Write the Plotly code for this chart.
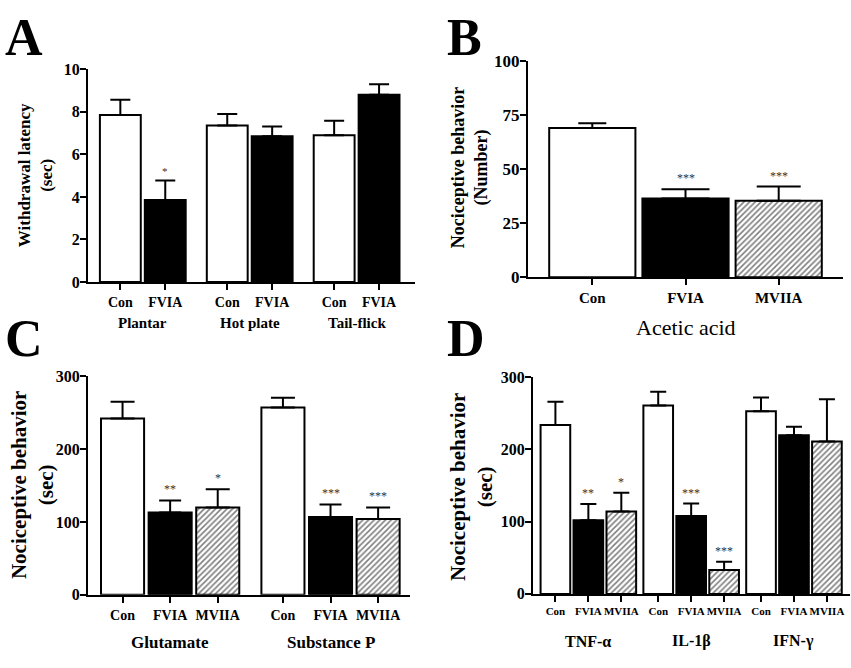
import plotly.graph_objects as go

FONT = "Times New Roman, Liberation Serif, Tinos, DejaVu Serif, serif"
W, H = 851, 668

# ---------------- data ----------------
# Panel A
a_groups = ["Plantar", "Hot plate", "Tail-flick"]
a_treats = ["Con", "FVIA"]
a_mean = {"Con": [7.85, 7.35, 6.9], "FVIA": [3.85, 6.85, 8.8]}
a_sem = {"Con": [0.72, 0.55, 0.68], "FVIA": [0.92, 0.46, 0.5]}
a_sig = {"Con": ["", "", ""], "FVIA": ["*", "", ""]}
a_yticks = [0, 2, 4, 6, 8, 10]

# Panel B
b_groups = ["Acetic acid"]
b_treats = ["Con", "FVIA", "MVIIA"]
b_mean = {"Con": [69.2], "FVIA": [36.5], "MVIIA": [35.4]}
b_sem = {"Con": [2.1], "FVIA": [4.2], "MVIIA": [6.6]}
b_sig = {"Con": [""], "FVIA": ["***"], "MVIIA": ["***"]}
b_yticks = [0, 25, 50, 75, 100]

# Panel C
c_groups = ["Glutamate", "Substance P"]
c_treats = ["Con", "FVIA", "MVIIA"]
c_mean = {"Con": [242, 257], "FVIA": [113, 107], "MVIIA": [120, 104]}
c_sem = {"Con": [23, 13.5], "FVIA": [16.5, 17], "MVIIA": [25, 16]}
c_sig = {"Con": ["", ""], "FVIA": ["**", "***"], "MVIIA": ["*", "***"]}
c_yticks = [0, 100, 200, 300]

# Panel D
d_groups = ["TNF-α", "IL-1β", "IFN-γ"]
d_treats = ["Con", "FVIA", "MVIIA"]
d_mean = {"Con": [234, 261, 253], "FVIA": [102, 108, 219.5], "MVIIA": [114, 33, 211]}
d_sem = {"Con": [32, 19, 19], "FVIA": [22.5, 17, 12], "MVIIA": [26, 11.5, 58.5]}
d_sig = {"Con": ["", "", ""], "FVIA": ["**", "***", ""], "MVIIA": ["*", "***", ""]}
d_yticks = [0, 100, 200, 300]

# ---------------- styling ----------------
STYLE = {
    "Con": dict(color="white", pattern=None),
    "FVIA": dict(color="black", pattern=None),
    "MVIIA": dict(color="white", pattern=dict(shape="/", fgcolor="black", bgcolor="white",
                                             size=4, solidity=0.4)),
}

fig = go.Figure()
annotations = []


def px_x(p):
    return p / W


def px_y(p):
    return 1 - p / H


def add_panel(k, groups, treats, mean, sem, sig, pitch, bar_w, xr, yr, yticks,
              xdom_px, ydom_px, tick_fs, cat_fs, cap_w, star_fs, star_shift):
    xa = "x" if k == 1 else f"x{k}"
    ya = "y" if k == 1 else f"y{k}"
    tickvals, ticktext = [], []
    for i, t in enumerate(treats):
        xs = [g * pitch + i for g in range(len(groups))]
        st = STYLE[t]
        marker = dict(color=st["color"], line=dict(color="black", width=2))
        if st["pattern"]:
            marker["pattern"] = st["pattern"]
        fig.add_trace(go.Bar(
            x=xs, y=mean[t], width=bar_w, marker=marker, name=t, showlegend=False,
            xaxis=xa, yaxis=ya,
            error_y=dict(type="data", symmetric=False, array=sem[t],
                         arrayminus=[0] * len(xs), thickness=2,
                         width=cap_w[t], color="black"),
        ))
        for g, x in enumerate(xs):
            tickvals.append(x)
            ticktext.append(t)
            if sig[t][g]:
                annotations.append(dict(
                    x=x, y=mean[t][g] + sem[t][g], xref=xa, yref=ya,
                    text=sig[t][g], showarrow=False, yanchor="bottom",
                    yshift=star_shift, font=dict(family=FONT, size=star_fs, color="#333333")))
    axis_common = dict(showline=True, linecolor="black", linewidth=2, ticks="outside",
                       ticklen=6, tickwidth=2, tickcolor="black", showgrid=False,
                       zeroline=False)
    fig.update_layout(**{
        ("xaxis" if k == 1 else f"xaxis{k}"): dict(
            axis_common, domain=[px_x(xdom_px[0]), px_x(xdom_px[1])], range=xr,
            anchor=ya, tickvals=tickvals, ticktext=[f"<b>{s}</b>" for s in ticktext],
            tickangle=0,
            tickfont=dict(family=FONT, size=cat_fs, color="black")),
        ("yaxis" if k == 1 else f"yaxis{k}"): dict(
            axis_common, domain=[px_y(ydom_px[1]), px_y(ydom_px[0])], range=yr,
            anchor=xa, tickvals=yticks, ticktext=[f"<b>{v}</b>" for v in yticks],
            ticklabelstandoff=-3,
            tickfont=dict(family=FONT, size=tick_fs, color="black")),
    })
    return xa


# A
add_panel(1, a_groups, a_treats, a_mean, a_sem, a_sig, pitch=2.38, bar_w=0.91,
          xr=[-0.72, 6.56], yr=[0, 10], yticks=a_yticks,
          xdom_px=(88, 415), ydom_px=(62, 281), tick_fs=16, cat_fs=14,
          cap_w={"Con": 10, "FVIA": 10}, star_fs=11, star_shift=2)
# B
add_panel(2, b_groups, b_treats, b_mean, b_sem, b_sig, pitch=3.0, bar_w=0.925,
          xr=[-0.69, 2.69], yr=[0, 100], yticks=b_yticks,
          xdom_px=(528, 843), ydom_px=(54, 276), tick_fs=17, cat_fs=15,
          cap_w={"Con": 14, "FVIA": 24, "MVIIA": 22}, star_fs=12, star_shift=2)
# C
add_panel(3, c_groups, c_treats, c_mean, c_sem, c_sig, pitch=3.37, bar_w=0.905,
          xr=[-0.726, 6.04], yr=[0, 300], yticks=c_yticks,
          xdom_px=(88, 410), ydom_px=(378, 603), tick_fs=16, cat_fs=14,
          cap_w={"Con": 12, "FVIA": 11, "MVIIA": 12}, star_fs=12, star_shift=2)
# D
add_panel(4, d_groups, d_treats, d_mean, d_sem, d_sig, pitch=3.12, bar_w=0.9,
          xr=[-0.68, 8.94], yr=[0, 300], yticks=d_yticks,
          xdom_px=(533, 850), ydom_px=(379, 602), tick_fs=16, cat_fs=11,
          cap_w={"Con": 8, "FVIA": 8, "MVIIA": 8}, star_fs=12, star_shift=2)


def group_labels(xa, groups, pitch, n, ypx, fs, bold=True):
    for g, name in enumerate(groups):
        annotations.append(dict(
            x=g * pitch + (n - 1) / 2, y=px_y(ypx), xref=xa, yref="paper",
            text=f"<b>{name}</b>" if bold else name, showarrow=False,
            yanchor="middle", font=dict(family=FONT, size=fs, color="black")))


group_labels("x", a_groups, 2.38, 2, 323, 15)
group_labels("x2", b_groups, 3.0, 3, 328, 22, bold=False)
group_labels("x3", c_groups, 3.37, 3, 652, 17)
group_labels("x4", d_groups, 3.12, 3, 651, 16)

# y-axis titles
for xpx, ypx, txt, fs in [
    (35, 171, "Withdrawal latency<br>(sec)", 17),
    (470, 164, "Nociceptive behavior<br>(Number)", 18),
    (32, 490, "Nociceptive behavior<br>(sec)", 21),
    (471, 492, "Nociceptive behavior<br>(sec)", 21),
]:
    annotations.append(dict(
        x=px_x(xpx), y=px_y(ypx), xref="paper", yref="paper", text=f"<b>{txt}</b>",
        textangle=-90, showarrow=False, xanchor="center", yanchor="middle",
        font=dict(family=FONT, size=fs, color="black")))

# panel letters
for xpx, ypx, letter in [(3, 29, "A"), (445, 29, "B"), (3, 339, "C"), (445, 339, "D")]:
    annotations.append(dict(
        x=px_x(xpx), y=px_y(ypx), xref="paper", yref="paper", text=f"<b>{letter}</b>",
        showarrow=False, xanchor="left", yanchor="middle",
        font=dict(family=FONT, size=52, color="black")))

fig.update_layout(
    width=W, height=H, margin=dict(l=0, r=0, t=0, b=0),
    paper_bgcolor="white", plot_bgcolor="white", barmode="overlay",
    annotations=annotations, showlegend=False,
)

fig.write_html("out.html", config={"displayModeBar": False},
               post_script="document.body.style.margin='0px';document.body.style.overflow='hidden';")
